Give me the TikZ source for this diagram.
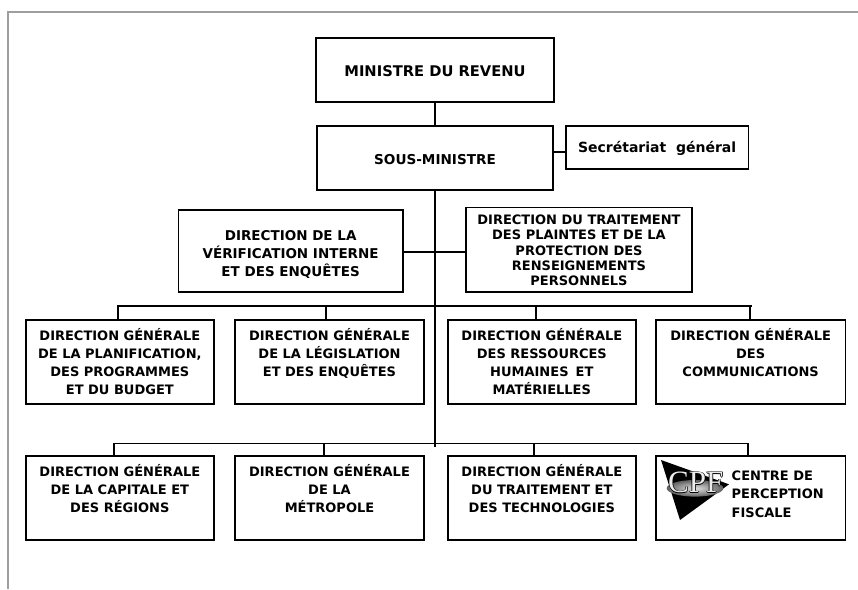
\documentclass[tikz,border=0pt]{standalone}
\usepackage{fontspec}
\setmainfont{DejaVu Sans}
\newfontfamily\cpffont{Liberation Serif}
% #1 width, #2 height, #3 first baseline from top, #4 baselineskip, #5 text
\newcommand\bt[5]{\vbox to #2{\hsize=#1\relax\linewidth=\hsize\centering\baselineskip=#4\relax\lineskiplimit=-20pt\vskip\dimexpr#3-14pt\relax\leavevmode\rule{0pt}{14pt}#5\par\vfil}}
\newcommand\btl[6]{\vbox to #2{\hsize=#1\relax\linewidth=\hsize\raggedright\leftskip=#6\relax\parindent=0pt\baselineskip=#4\relax\lineskiplimit=-20pt\vskip\dimexpr#3-14pt\relax\leavevmode\rule{0pt}{14pt}#5\par\vfil}}
\newcommand\outl[1]{\leavevmode\rlap{\kern-0.7pt\textcolor{black}{#1}}\rlap{\kern0.7pt\textcolor{black}{#1}}\rlap{\raisebox{0.7pt}{\textcolor{black}{#1}}}\rlap{\raisebox{-0.7pt}{\textcolor{black}{#1}}}\textcolor{black!8}{#1}}
\begin{document}
\begin{tikzpicture}[x=1pt,y=-1pt,
  bx/.style={draw, line width=1.6pt, inner sep=0pt, outer sep=0pt, anchor=north west},
  ln/.style={line width=1.6pt, line cap=rect},
  frame/.style={line width=1.3pt, draw=black!38},
  fa/.style={font=\fontsize{#1}{18}\selectfont\bfseries}]
\useasboundingbox (0,0) rectangle (858,589);
\draw[frame] (8,589) -- (8,12) -- (860,12);

% top
\node[bx, fa=14.7] (min) at (316,37.7) {\bt{238pt}{64pt}{38.5pt}{18pt}{MINISTRE DU REVENU}};
\node[bx, fa=13.6] (sous) at (317,126) {\bt{236pt}{64pt}{38.1pt}{18pt}{SOUS-MINISTRE}};
\node[bx, fa=14] (sec) at (566,126) {\bt{182.3pt}{43pt}{26.4pt}{18pt}{Secrétariat\hspace{0.35em} général}};
\node[bx, fa=13.5] (ver) at (178.3,210) {\bt{224.7pt}{81.7pt}{30.9pt}{17.8pt}{DIRECTION DE LA\\VÉRIFICATION INTERNE\\ET DES ENQUÊTES}};
\node[bx, fa=13] (pla) at (466,207.5) {\bt{226pt}{84.2pt}{17.2pt}{15.2pt}{DIRECTION DU TRAITEMENT\\DES PLAINTES ET DE LA\\PROTECTION DES\\RENSEIGNEMENTS\\PERSONNELS}};

% row 1
\node[bx, fa=13] (r1a) at (25.7,320) {\bt{188.3pt}{84pt}{20.2pt}{18.1pt}{DIRECTION GÉNÉRALE\\DE LA PLANIFICATION,\\DES PROGRAMMES\\ET DU BUDGET}};
\node[bx, fa=13] (r1b) at (235,320) {\bt{189pt}{84pt}{20.2pt}{18.1pt}{DIRECTION GÉNÉRALE\\DE LA LÉGISLATION\\ET DES ENQUÊTES}};
\node[bx, fa=13] (r1c) at (447.7,320) {\bt{188.3pt}{84pt}{20.2pt}{18.1pt}{DIRECTION GÉNÉRALE\\DES RESSOURCES\\HUMAINES\hspace{0.2em} ET\\MATÉRIELLES}};
\node[bx, fa=13] (r1d) at (655.7,320) {\bt{189.9pt}{84pt}{20.2pt}{18.1pt}{DIRECTION GÉNÉRALE\\DES\\COMMUNICATIONS}};

% row 2
\node[bx, fa=13] (r2a) at (25.7,455.7) {\bt{188.3pt}{84pt}{20.7pt}{18.1pt}{DIRECTION GÉNÉRALE\\DE LA CAPITALE ET\\DES RÉGIONS}};
\node[bx, fa=13] (r2b) at (235,455.7) {\bt{189pt}{84pt}{20.7pt}{18.1pt}{DIRECTION GÉNÉRALE\\DE LA\\MÉTROPOLE}};
\node[bx, fa=13] (r2c) at (447.7,455.7) {\bt{188.3pt}{84pt}{20.7pt}{18.1pt}{DIRECTION GÉNÉRALE\\DU TRAITEMENT ET\\DES TECHNOLOGIES}};
\node[bx, fa=13] (r2d) at (655.7,455.7) {\btl{189.9pt}{84pt}{24.3pt}{18.5pt}{CENTRE DE\\PERCEPTION\\FISCALE}{76pt}};

% CPF logo
\fill (661,460) -- (729,484.3) -- (680,520) -- cycle;
\shade[inner color=black!12, outer color=black!62] (695,488.3) ellipse [x radius=28.3, y radius=8.3];
\node[inner sep=0pt, anchor=base, font=\cpffont\fontsize{31}{31}\selectfont] (cpf) at (695.8,492.7) {\outl{CPF}};

% connectors
\coordinate (trunkend) at (435,445.7);
\coordinate (secy) at (0,151.7);
\coordinate (hy) at (0,251.7);
\draw[ln] (min.south) -- (min.south |- sous.north);
\draw[ln] (sous.south) -- (trunkend);
\draw[ln] (sous.east |- secy) -- (sec.west |- secy);
\draw[ln] (ver.east |- hy) -- (pla.west |- hy);

\coordinate (b1w) at (117.7,305.7);
\coordinate (b1e) at (751,305.7);
\coordinate (d1b) at (326,305.7);
\coordinate (d1c) at (536,305.7);
\coordinate (d1d) at (750,305.7);
\draw[ln] (b1w) -- (b1e);
\draw[ln] (b1w) -- (b1w |- r1a.north);
\draw[ln] (d1b) -- (d1b |- r1b.north);
\draw[ln] (d1c) -- (d1c |- r1c.north);
\draw[ln] (d1d) -- (d1d |- r1d.north);

\coordinate (b2w) at (113.8,443.5);
\coordinate (b2e) at (748,443.5);
\coordinate (d2b) at (324,443.5);
\coordinate (d2c) at (533.7,443.5);
\draw[ln] (b2w) -- (b2e);
\draw[ln] (b2w) -- (b2w |- r2a.north);
\draw[ln] (d2b) -- (d2b |- r2b.north);
\draw[ln] (d2c) -- (d2c |- r2c.north);
\draw[ln] (b2e) -- (b2e |- r2d.north);
\end{tikzpicture}
\end{document}
